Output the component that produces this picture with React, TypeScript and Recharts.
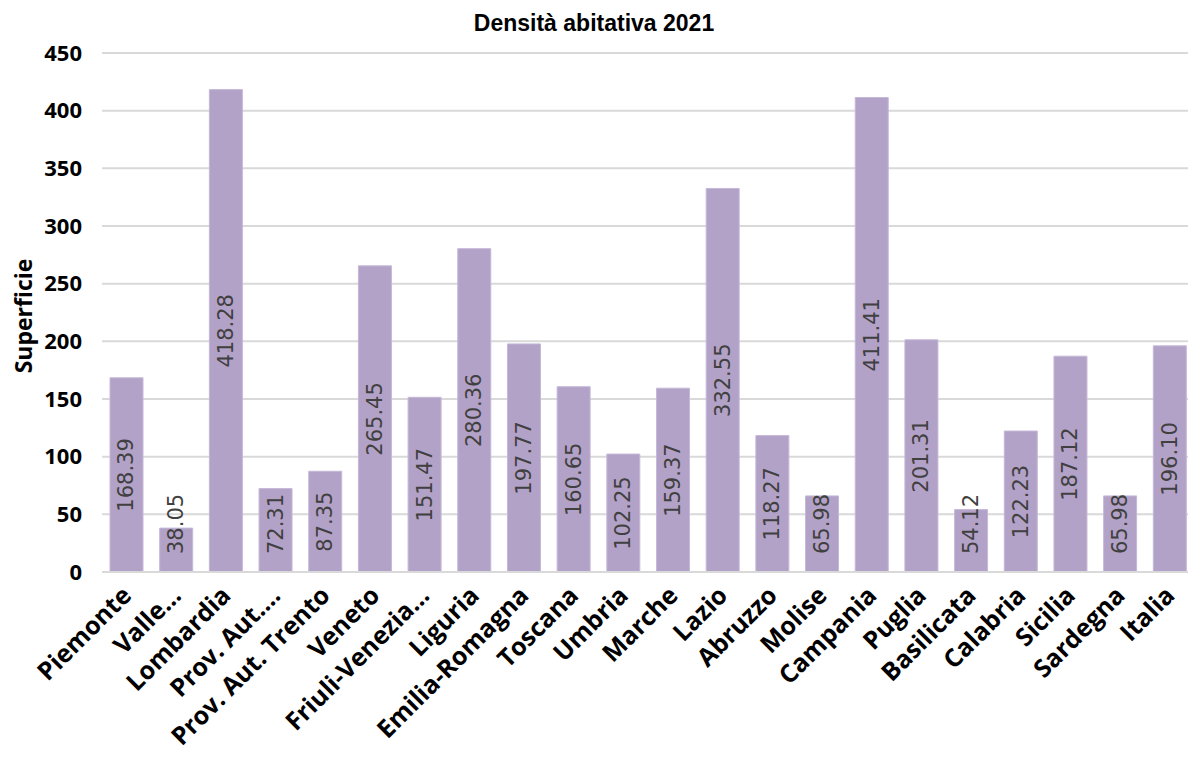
import React from "react";
import { BarChart, Bar, XAxis, YAxis, CartesianGrid, LabelList } from "recharts";

const categories = [
  "Piemonte", "Valle…", "Lombardia", "Prov. Aut.…", "Prov. Aut. Trento", "Veneto",
  "Friuli-Venezia…", "Liguria", "Emilia-Romagna", "Toscana", "Umbria", "Marche",
  "Lazio", "Abruzzo", "Molise", "Campania", "Puglia", "Basilicata", "Calabria",
  "Sicilia", "Sardegna", "Italia",
];
const densita = [
  168.39, 38.05, 418.28, 72.31, 87.35, 265.45, 151.47, 280.36, 197.77, 160.65,
  102.25, 159.37, 332.55, 118.27, 65.98, 411.41, 201.31, 54.12, 122.23, 187.12,
  65.98, 196.1,
];
const yTicks = [0, 50, 100, 150, 200, 250, 300, 350, 400, 450];

const data = categories.map((c, i) => ({ name: c, value: densita[i] }));

const LABEL_FS = 21;

const BarValueLabel = (props: any) => {
  const { x, y, width, height, value } = props;
  const txt = Number(value).toFixed(2);
  const len = (txt.length - 1) * 0.636 * LABEL_FS + 0.318 * LABEL_FS;
  const cx = x + width / 2;
  const bottom = y + height;
  let cy = y + height / 2;
  if (cy + len / 2 > bottom - 18) cy = bottom - 18 - len / 2;
  return (
    <text
      x={cx}
      y={cy}
      transform={`rotate(-90, ${cx}, ${cy})`}
      textAnchor="middle"
      dominantBaseline="central"
      fill="#404040"
      fontFamily="DejaVu Sans"
      fontSize={LABEL_FS}
    >
      {txt}
    </text>
  );
};

const XTick = (props: any) => {
  const { x, y, payload } = props;
  const tx = x + 6;
  const ty = y + 17;
  return (
    <text
      x={tx}
      y={ty}
      transform={`rotate(-45, ${tx}, ${ty})`}
      textAnchor="end"
      fill="#000000"
      fontFamily="Open Sans"
      fontWeight={700}
      fontSize={25}
    >
      {payload.value}
    </text>
  );
};

export default function App() {
  return (
    <div style={{ position: "absolute", left: 0, top: 0, width: 1188, height: 760, overflow: "hidden", background: "#fff" }}>
      <BarChart
        width={1200}
        height={760}
        data={data}
        margin={{ top: 53, right: 5, bottom: 0, left: 0 }}
        barSize={33}
      >
        <text x={594} y={31} textAnchor="middle" fontFamily="Liberation Sans" fontWeight={700} fontSize={23} fill="#000">
          Densità abitativa 2021
        </text>
        <text
          x={23}
          y={316}
          transform="rotate(-90, 23, 316)"
          textAnchor="middle"
          dominantBaseline="central"
          fontFamily="Open Sans"
          fontWeight={700}
          fontSize={23}
          fill="#000"
        >
          Superficie
        </text>
        <CartesianGrid vertical={false} stroke="#D9D9D9" strokeWidth={2} />
        <XAxis
          dataKey="name"
          interval={0}
          tickLine={false}
          axisLine={{ stroke: "#D9D9D9", strokeWidth: 2 }}
          tick={<XTick />}
          height={188}
        />
        <YAxis
          domain={[0, 450]}
          ticks={yTicks}
          interval={0}
          width={102}
          tickLine={false}
          axisLine={false}
          tickMargin={14}
          tick={{ fill: "#000", fontFamily: "Open Sans", fontWeight: 700, fontSize: 22 }}
        />
        <Bar dataKey="value" fill="#B3A2C7" stroke="#C5B8D8" strokeWidth={1} isAnimationActive={false}>
          <LabelList dataKey="value" content={<BarValueLabel />} />
        </Bar>
      </BarChart>
    </div>
  );
}
